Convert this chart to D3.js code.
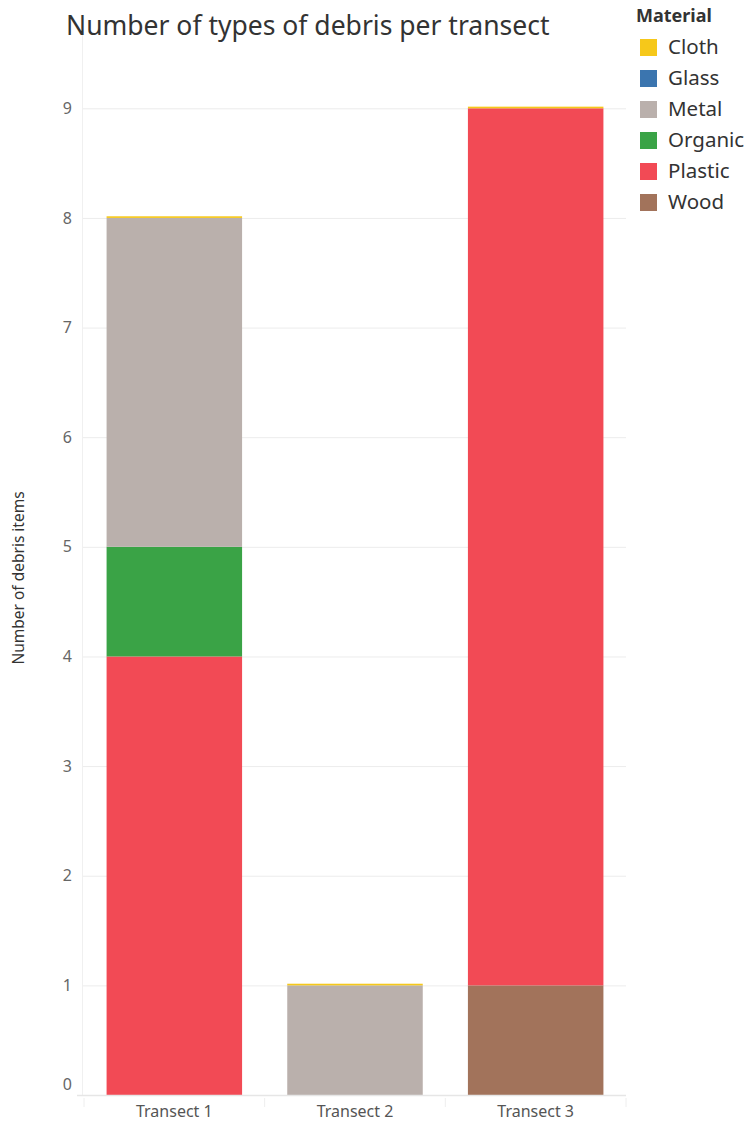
<!DOCTYPE html>
<html lang="en">
<head>
	<meta charset="utf-8">
	<title>Debris per transect</title>
	<script src="https://d3js.org/d3.v7.min.js"></script>
	<style>
		body {
			margin: 0;
			background: #fff;
			font-family: "Noto Sans", "Open Sans", sans-serif;
		}
	</style>
</head>
<body>
<script>
// data
var transects = ["Transect 1", "Transect 2", "Transect 3"];
var materials = ["Cloth", "Glass", "Metal", "Organic", "Plastic", "Wood"];
var colours = ["#f6c81a", "#3b75af", "#bab0ac", "#3aa346", "#f24a55", "#a2735b"];
var cloth = [0.015, 0.015, 0.015];
var glass = [0, 0, 0];
var metal = [3, 1, 0];
var organic = [1, 0, 0];
var plastic = [4, 0, 8];
var wood = [0, 0, 1];
var yTicks = [0, 1, 2, 3, 4, 5, 6, 7, 8, 9];

var width = 751, height = 1124;
var plotLeft = 82, plotRight = 626, plotTop = 48, plotBottom = 1095;

var rows = transects.map(function(t, i) {
	return { transect: t, Cloth: cloth[i], Glass: glass[i], Metal: metal[i],
		Organic: organic[i], Plastic: plastic[i], Wood: wood[i] };
});

var svg = d3.select("body").append("svg")
	.attr("width", width)
	.attr("height", height);

var x = d3.scaleBand().domain(transects).range([plotLeft + 2, plotRight]).paddingInner(0.25).paddingOuter(0.125);
var y = d3.scaleLinear().domain([0, 9.55]).range([plotBottom, plotTop]);
var colour = d3.scaleOrdinal().domain(materials).range(colours);

// gridlines
svg.append("g").selectAll("line")
	.data(yTicks.slice(1))
	.enter().append("line")
	.attr("x1", plotLeft).attr("x2", plotRight)
	.attr("y1", function(d) { return y(d) + 0.5; })
	.attr("y2", function(d) { return y(d) + 0.5; })
	.attr("stroke", "#ececec");

// y axis line
svg.append("line")
	.attr("x1", plotLeft + 0.5).attr("x2", plotLeft + 0.5)
	.attr("y1", 30).attr("y2", plotBottom)
	.attr("stroke", "#f0f0f0");

// stacked bars, Wood at the bottom
var stack = d3.stack().keys(materials.slice().reverse());
var layers = svg.append("g").selectAll("g")
	.data(stack(rows))
	.enter().append("g")
	.attr("fill", function(d) { return colour(d.key); });

layers.selectAll("rect")
	.data(function(d) { return d; })
	.enter().append("rect")
	.attr("x", function(d) { return x(d.data.transect); })
	.attr("width", x.bandwidth())
	.attr("y", function(d) { return y(d[1]); })
	.attr("height", function(d) { return y(d[0]) - y(d[1]); });

// y tick labels
svg.append("g").selectAll("text")
	.data(yTicks)
	.enter().append("text")
	.attr("x", 72)
	.attr("y", function(d) { return d === 0 ? y(d) - 11 : y(d); })
	.attr("dy", "0.35em")
	.attr("text-anchor", "end")
	.attr("font-size", 16)
	.attr("fill", "#666")
	.text(function(d) { return d; });

// baseline and x axis
svg.append("line")
	.attr("x1", 77).attr("x2", plotRight)
	.attr("y1", plotBottom + 0.5).attr("y2", plotBottom + 0.5)
	.attr("stroke", "#e6e6e6").attr("stroke-width", 1.5);

var seps = [plotLeft + 2].concat(transects.map(function(t) { return x(t) + x.bandwidth() + x.step() * 0.125; }));
svg.append("g").selectAll("line")
	.data(seps)
	.enter().append("line")
	.attr("x1", function(d) { return d; }).attr("x2", function(d) { return d; })
	.attr("y1", plotBottom + 3).attr("y2", plotBottom + 12)
	.attr("stroke", "#eeeeee");

svg.append("g").selectAll("text")
	.data(transects)
	.enter().append("text")
	.attr("x", function(d) { return x(d) + x.bandwidth() / 2; })
	.attr("y", 1117)
	.attr("text-anchor", "middle")
	.attr("font-size", 16)
	.attr("fill", "#555")
	.text(function(d) { return d; });

// axis title
svg.append("text")
	.attr("transform", "translate(24,578) rotate(-90)")
	.attr("text-anchor", "middle")
	.attr("font-size", 15.5)
	.attr("fill", "#333")
	.text("Number of debris items");

// chart title
svg.append("text")
	.attr("x", 66).attr("y", 35)
	.attr("font-size", 26.5)
	.attr("fill", "#333")
	.text("Number of types of debris per transect");

// legend
var legend = svg.append("g").attr("transform", "translate(636,0)");
legend.append("text")
	.attr("x", 0).attr("y", 22)
	.attr("font-size", 18)
	.attr("font-weight", "bold")
	.attr("fill", "#333")
	.text("Material");

var item = legend.selectAll("g.item")
	.data(materials)
	.enter().append("g")
	.attr("class", "item")
	.attr("transform", function(d, i) { return "translate(0," + (47 + i * 31) + ")"; });

item.append("rect")
	.attr("x", 4).attr("y", -8)
	.attr("width", 17).attr("height", 17)
	.attr("fill", function(d) { return colour(d); });

item.append("text")
	.attr("x", 32).attr("y", 0)
	.attr("dy", "0.35em")
	.attr("font-size", 20.5)
	.attr("fill", "#333")
	.text(function(d) { return d; });
</script>
</body>
</html>
